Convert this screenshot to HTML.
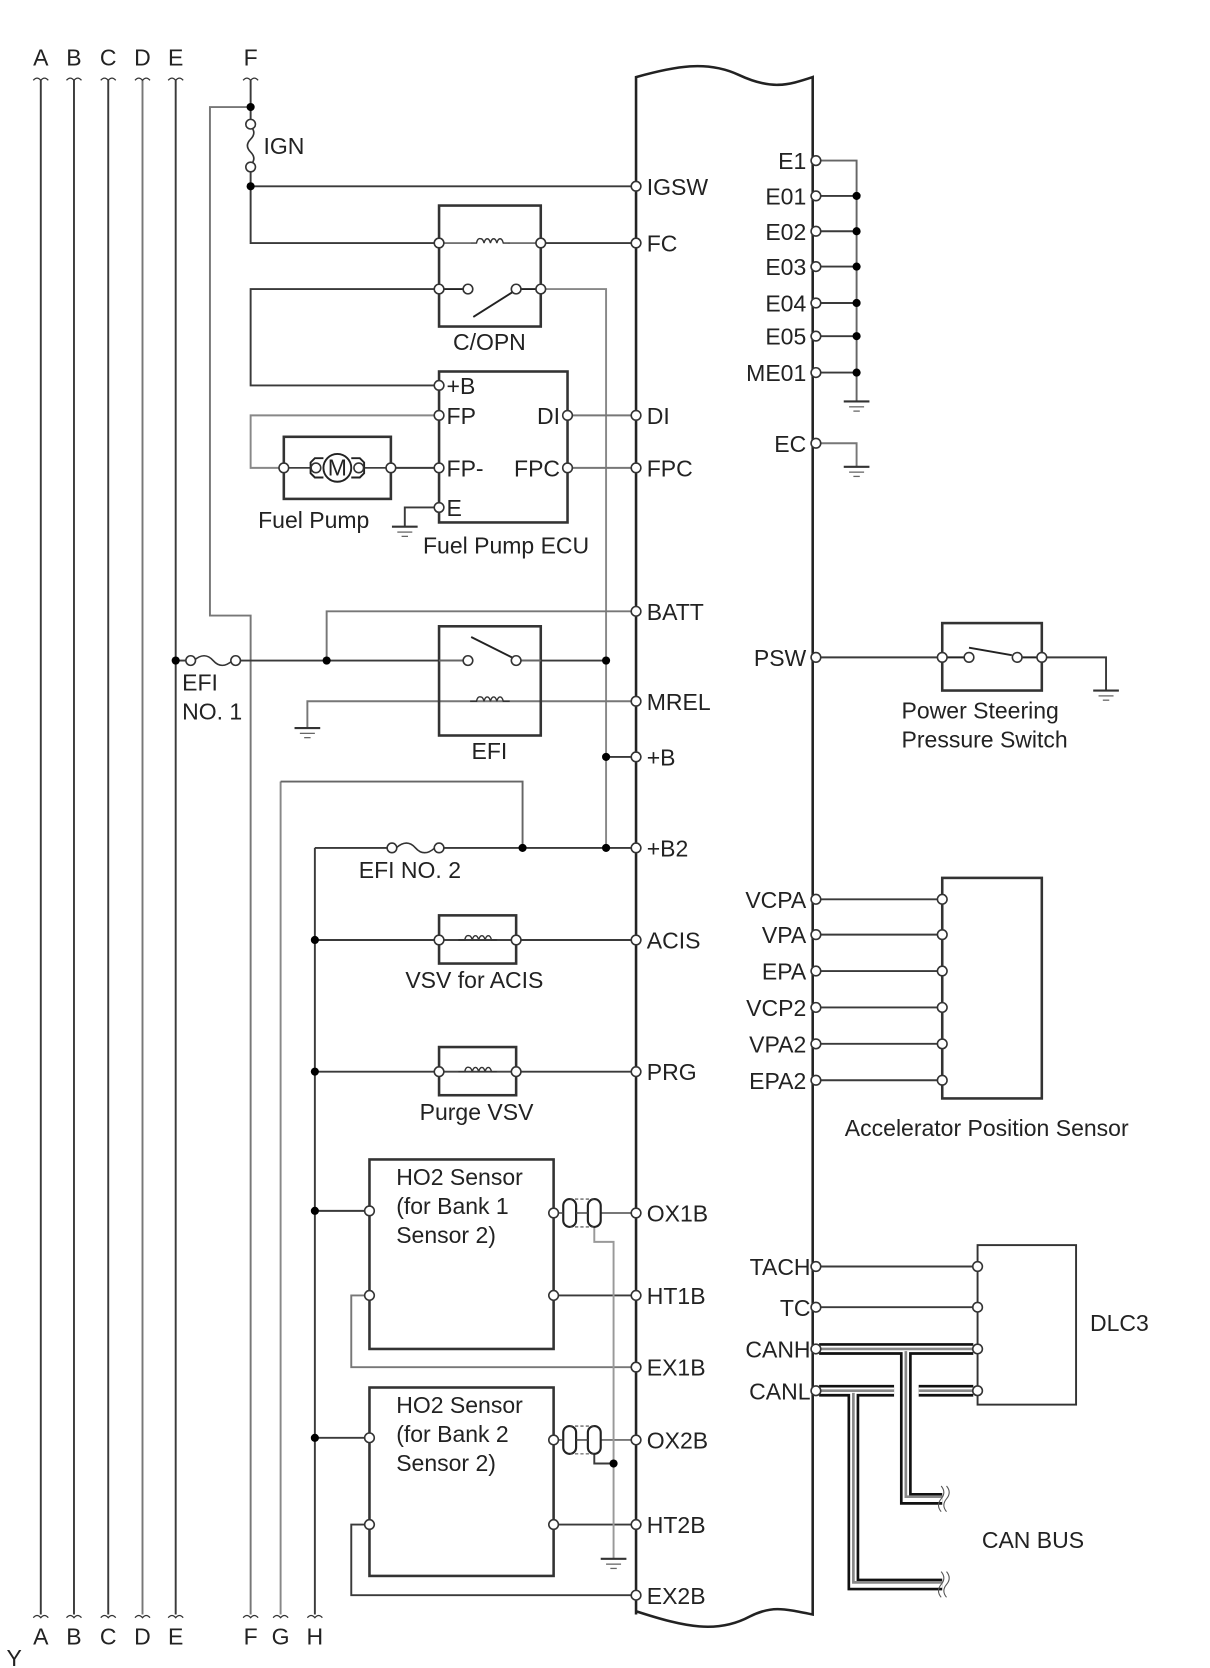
<!DOCTYPE html>
<html><head><meta charset="utf-8"><style>
html,body{margin:0;padding:0;background:#fff;}
svg{display:block;}
text{font-family:"Liberation Sans",Arial,sans-serif;font-size:21.5px;fill:#222;}
</style></head><body>
<svg width="1210" height="1668" viewBox="0 0 1130 1558" xmlns="http://www.w3.org/2000/svg">
<defs>
<g id="sq"><path d="M-7,2 q3.5,-4 7,0 q3.5,-4 7,0" fill="none" stroke="#333" stroke-width="1.2"/></g>
<g id="gnd"><line x1="-12" y1="0" x2="12" y2="0" stroke="#333" stroke-width="2"/><line x1="-7" y1="5" x2="7" y2="5" stroke="#666" stroke-width="1.2"/><line x1="-3" y1="9" x2="3" y2="9" stroke="#666" stroke-width="1.2"/></g>
<g id="coil"><path d="M-18,0 h6 q1,-5 4,-4 q2,0 3,4 q1,-4 3,-4 q2,0 3,4 q1,-4 3,-4 q2,0 3,4 q1,-4 3,-4 q2,0 3,4 h6" fill="none" stroke="#333" stroke-width="1.3"/></g>
<g id="pin"><circle r="4.5" fill="#fff" stroke="#333" stroke-width="1.5"/></g>
<g id="dot"><circle r="3.8" fill="#000"/></g>
</defs>

<g stroke="#3a3a3a" stroke-width="1.8" fill="none">
<line x1="38" y1="75" x2="38" y2="1508"/>
<line x1="69" y1="75" x2="69" y2="1508"/>
<line x1="101" y1="75" x2="101" y2="1508"/>
<line x1="133" y1="75" x2="133" y2="1508" stroke="#777"/>
<line x1="164" y1="75" x2="164" y2="1508"/>
<line x1="262" y1="730" x2="262" y2="1508" stroke="#888"/>
<line x1="294" y1="792" x2="294" y2="1508"/>
<polyline points="234,75 234,100 234,113"/>
<path d="M234,158 L234,174 L234,227 L410,227"/>
<path d="M234,100 L196,100 L196,575 L234,575 L234,1508" stroke="#777"/>
<path d="M234,174 L594,174"/>
<path d="M505,227 L594,227"/>
<path d="M505,270 L566,270 L566,792" stroke="#888"/>
<path d="M410,270 L234,270 L234,360 L410,360"/>
<path d="M410,388 L234,388 L234,437 L265,437" stroke="#888"/>
<path d="M365,437 L410,437"/>
<path d="M410,474 L378,474 L378,492"/>
<path d="M530,388 L594,388" stroke="#777"/>
<path d="M530,437 L594,437" stroke="#777"/>
<path d="M305,617 L305,571 L594,571" stroke="#777"/>
<path d="M164,617 L178,617"/>
<path d="M220,617 L437,617"/>
<path d="M482,617 L566,617"/>
<path d="M287,680 L287,655 L594,655" stroke="#777"/>
<path d="M566,707 L594,707"/>
<path d="M262,730 L488,730 L488,792" stroke="#666"/>
<path d="M294,792 L366,792"/>
<path d="M410,792 L594,792"/>
<path d="M294,878 L594,878"/>
<path d="M294,1001 L594,1001"/>
<path d="M294,1131 L345,1131"/>
<path d="M294,1343 L345,1343"/>
<path d="M561,1133 L594,1133" stroke="#777"/>
<path d="M561,1345 L594,1345" stroke="#777"/>
<path d="M517,1210 L594,1210"/>
<path d="M517,1424 L594,1424"/>
<path d="M345,1210 L328,1210 L328,1277 L594,1277" stroke="#777"/>
<path d="M345,1424 L328,1424 L328,1490 L594,1490"/>
<path d="M555,1146 L555,1160 L573,1160 L573,1456" stroke="#999"/>
<path d="M555,1358 L555,1367 L573,1367"/>
<path d="M762,150 L800,150 L800,375" stroke="#666"/>
<path d="M762,183 H800 M762,216 H800 M762,249 H800 M762,283 H800 M762,314 H800 M762,348 H800"/>
<path d="M762,414 L800,414 L800,436" stroke="#777"/>
<path d="M762,614 L880,614 M973,614 L1033,614 L1033,645"/>
<path d="M762,840 H880 M762,873 H880 M762,907 H880 M762,941 H880 M762,975 H880 M762,1009 H880"/>
<path d="M762,1183 H913 M762,1221 H913"/>
</g>

<path d="M594,1508 L594,72 C630,62 660,56 690,70 C720,84 735,80 759,72 L759,1508 C730,1502 720,1500 700,1510 C670,1526 640,1520 594,1505" fill="none" stroke="#222" stroke-width="2.4"/>

<g fill="none" stroke="#333" stroke-width="2.4">
<rect x="410" y="192" width="95" height="113"/>
<rect x="410" y="347" width="120" height="141"/>
<rect x="265" y="408" width="100" height="58"/>
<rect x="410" y="585" width="95" height="102"/>
<rect x="410" y="855" width="72" height="45"/>
<rect x="410" y="978" width="72" height="45"/>
<rect x="345" y="1083" width="172" height="177"/>
<rect x="345" y="1296" width="172" height="176"/>
<rect x="880" y="582" width="93" height="63"/>
<rect x="880" y="820" width="93" height="206"/>
<rect x="913" y="1163" width="92" height="149" stroke-width="1.8"/>
</g>

<g stroke="#222" stroke-width="1.8">
<line x1="410" y1="270" x2="433" y2="270"/>
<line x1="442" y1="296" x2="480" y2="272"/>
<line x1="487" y1="270" x2="505" y2="270"/>
<line x1="440" y1="595" x2="478" y2="614"/>
<line x1="437" y1="617" x2="410" y2="617" stroke="#666"/>
<line x1="482" y1="617" x2="505" y2="617" stroke="#666"/>
<line x1="880" y1="614" x2="900" y2="614"/>
<line x1="905" y1="605" x2="945" y2="612"/>
<line x1="955" y1="614" x2="973" y2="614"/>
</g>

<use href="#coil" x="457" y="227"/>
<use href="#coil" x="457" y="655"/>
<use href="#coil" x="446" y="878"/>
<use href="#coil" x="446" y="1001"/>
<g stroke="#444" stroke-width="1.3">
<line x1="410" y1="227" x2="439" y2="227"/><line x1="475" y1="227" x2="505" y2="227"/>
<line x1="410" y1="878" x2="428" y2="878"/><line x1="464" y1="878" x2="482" y2="878"/>
<line x1="410" y1="1001" x2="428" y2="1001"/><line x1="464" y1="1001" x2="482" y2="1001"/>
</g>

<path d="M234,118 q6,6 0,12 q-6,6 0,12 q6,6 0,12" fill="none" stroke="#333" stroke-width="1.5"/>
<path d="M181,617 q10,-9 18,0 q8,9 18,0" fill="none" stroke="#333" stroke-width="1.5"/>
<path d="M370,792 q10,-9 18,0 q8,9 18,0" fill="none" stroke="#333" stroke-width="1.5"/>

<g fill="none" stroke="#222" stroke-width="1.8">
<circle cx="315" cy="437" r="13" fill="#fff"/>
<path d="M302,428 h-8 l-4,4 v10 l4,4 h8 M328,428 h8 l4,4 v10 l-4,4 h-8"/>
<line x1="265" y1="437" x2="290" y2="437" stroke-width="1.4"/>
<line x1="340" y1="437" x2="365" y2="437" stroke-width="1.4"/>
</g>
<text x="315" y="444" text-anchor="middle" font-size="18">M</text>

<g fill="#fff" stroke="#222" stroke-width="2">
<rect x="526" y="1120" width="12" height="26" rx="6"/>
<rect x="549" y="1120" width="12" height="26" rx="6"/>
<rect x="526" y="1332" width="12" height="26" rx="6"/>
<rect x="549" y="1332" width="12" height="26" rx="6"/>
</g>
<g stroke="#444" stroke-width="1" stroke-dasharray="3,2">
<line x1="532" y1="1120" x2="555" y2="1120"/><line x1="532" y1="1146" x2="555" y2="1146"/>
<line x1="532" y1="1332" x2="555" y2="1332"/><line x1="532" y1="1358" x2="555" y2="1358"/>
</g>
<g stroke="#444" stroke-width="1.4"><line x1="517" y1="1133" x2="526" y2="1133"/><line x1="538" y1="1133" x2="549" y2="1133"/><line x1="517" y1="1345" x2="526" y2="1345"/><line x1="538" y1="1345" x2="549" y2="1345"/></g>

<!-- CAN bus: CANL first, CANH on top -->
<g fill="none">
<g stroke="#111" stroke-width="11"><path d="M765,1299 H835"/><path d="M858,1299 H909"/><path d="M797,1299 V1480 H880"/></g>
<g stroke="#fff" stroke-width="6"><path d="M765,1299 H835"/><path d="M858,1299 H909"/><path d="M797,1299 V1480 H880"/></g>
<g stroke="#888" stroke-width="2.5"><path d="M765,1299 H835"/><path d="M858,1299 H909"/><path d="M797,1301 V1478 H880"/></g>
<g stroke="#111" stroke-width="11"><path d="M765,1260 H909"/><path d="M846,1260 V1400 H880"/></g>
<g stroke="#fff" stroke-width="6"><path d="M765,1260 H909"/><path d="M846,1260 V1400 H880"/></g>
<g stroke="#888" stroke-width="2.5"><path d="M765,1260 H909"/><path d="M846,1262 V1398 H880"/></g>
</g>
<path d="M879,1388 q5,6 0,12 q-5,6 0,12 M884,1388 q5,6 0,12 q-5,6 0,12 M879,1468 q5,6 0,12 q-5,6 0,12 M884,1468 q5,6 0,12 q-5,6 0,12" fill="none" stroke="#555" stroke-width="1"/>

<use href="#gnd" x="378" y="492"/>
<use href="#gnd" x="287" y="680"/>
<use href="#gnd" x="573" y="1456"/>
<use href="#gnd" x="800" y="375"/>
<use href="#gnd" x="800" y="436"/>
<use href="#gnd" x="1033" y="645"/>

<g>
<use href="#sq" x="38" y="73"/><use href="#sq" x="69" y="73"/><use href="#sq" x="101" y="73"/><use href="#sq" x="133" y="73"/><use href="#sq" x="164" y="73"/><use href="#sq" x="234" y="73"/>
<use href="#sq" x="38" y="1509"/><use href="#sq" x="69" y="1509"/><use href="#sq" x="101" y="1509"/><use href="#sq" x="133" y="1509"/><use href="#sq" x="164" y="1509"/><use href="#sq" x="234" y="1509"/><use href="#sq" x="262" y="1509"/><use href="#sq" x="294" y="1509"/>
</g>

<use href="#dot" x="234" y="100"/><use href="#dot" x="234" y="174"/>
<use href="#dot" x="164" y="617"/><use href="#dot" x="305" y="617"/><use href="#dot" x="566" y="617"/>
<use href="#dot" x="566" y="707"/><use href="#dot" x="488" y="792"/><use href="#dot" x="566" y="792"/>
<use href="#dot" x="294" y="878"/><use href="#dot" x="294" y="1001"/><use href="#dot" x="294" y="1131"/><use href="#dot" x="294" y="1343"/>
<use href="#dot" x="573" y="1367"/>
<use href="#dot" x="800" y="183"/><use href="#dot" x="800" y="216"/><use href="#dot" x="800" y="249"/><use href="#dot" x="800" y="283"/><use href="#dot" x="800" y="314"/><use href="#dot" x="800" y="348"/>

<g>
<use href="#pin" x="234" y="116"/><use href="#pin" x="234" y="156"/>
<use href="#pin" x="594" y="174"/><use href="#pin" x="594" y="227"/><use href="#pin" x="594" y="388"/><use href="#pin" x="594" y="437"/>
<use href="#pin" x="594" y="571"/><use href="#pin" x="594" y="655"/><use href="#pin" x="594" y="707"/><use href="#pin" x="594" y="792"/>
<use href="#pin" x="594" y="878"/><use href="#pin" x="594" y="1001"/><use href="#pin" x="594" y="1133"/><use href="#pin" x="594" y="1210"/><use href="#pin" x="594" y="1277"/><use href="#pin" x="594" y="1345"/><use href="#pin" x="594" y="1424"/><use href="#pin" x="594" y="1490"/>
<use href="#pin" x="410" y="227"/><use href="#pin" x="505" y="227"/><use href="#pin" x="410" y="270"/><use href="#pin" x="437" y="270"/><use href="#pin" x="482" y="270"/><use href="#pin" x="505" y="270"/>
<use href="#pin" x="410" y="360"/><use href="#pin" x="410" y="388"/><use href="#pin" x="410" y="437"/><use href="#pin" x="410" y="474"/><use href="#pin" x="530" y="388"/><use href="#pin" x="530" y="437"/>
<use href="#pin" x="265" y="437"/><use href="#pin" x="365" y="437"/><use href="#pin" x="295" y="437"/><use href="#pin" x="335" y="437"/>
<use href="#pin" x="178" y="617"/><use href="#pin" x="220" y="617"/><use href="#pin" x="437" y="617"/><use href="#pin" x="482" y="617"/>
<use href="#pin" x="366" y="792"/><use href="#pin" x="410" y="792"/>
<use href="#pin" x="410" y="878"/><use href="#pin" x="482" y="878"/><use href="#pin" x="410" y="1001"/><use href="#pin" x="482" y="1001"/>
<use href="#pin" x="345" y="1131"/><use href="#pin" x="345" y="1210"/><use href="#pin" x="517" y="1133"/><use href="#pin" x="517" y="1210"/>
<use href="#pin" x="345" y="1343"/><use href="#pin" x="345" y="1424"/><use href="#pin" x="517" y="1345"/><use href="#pin" x="517" y="1424"/>
<use href="#pin" x="762" y="150"/><use href="#pin" x="762" y="183"/><use href="#pin" x="762" y="216"/><use href="#pin" x="762" y="249"/><use href="#pin" x="762" y="283"/><use href="#pin" x="762" y="314"/><use href="#pin" x="762" y="348"/><use href="#pin" x="762" y="414"/>
<use href="#pin" x="762" y="614"/><use href="#pin" x="880" y="614"/><use href="#pin" x="905" y="614"/><use href="#pin" x="950" y="614"/><use href="#pin" x="973" y="614"/>
<use href="#pin" x="762" y="840"/><use href="#pin" x="762" y="873"/><use href="#pin" x="762" y="907"/><use href="#pin" x="762" y="941"/><use href="#pin" x="762" y="975"/><use href="#pin" x="762" y="1009"/>
<use href="#pin" x="880" y="840"/><use href="#pin" x="880" y="873"/><use href="#pin" x="880" y="907"/><use href="#pin" x="880" y="941"/><use href="#pin" x="880" y="975"/><use href="#pin" x="880" y="1009"/>
<use href="#pin" x="762" y="1183"/><use href="#pin" x="762" y="1221"/><use href="#pin" x="762" y="1260"/><use href="#pin" x="762" y="1299"/>
<use href="#pin" x="913" y="1183"/><use href="#pin" x="913" y="1221"/><use href="#pin" x="913" y="1260"/><use href="#pin" x="913" y="1299"/>
</g>

<g>
<text x="38" y="61" text-anchor="middle">A</text><text x="69" y="61" text-anchor="middle">B</text><text x="101" y="61" text-anchor="middle">C</text><text x="133" y="61" text-anchor="middle">D</text><text x="164" y="61" text-anchor="middle">E</text><text x="234" y="61" text-anchor="middle">F</text>
<text x="38" y="1536" text-anchor="middle">A</text><text x="69" y="1536" text-anchor="middle">B</text><text x="101" y="1536" text-anchor="middle">C</text><text x="133" y="1536" text-anchor="middle">D</text><text x="164" y="1536" text-anchor="middle">E</text><text x="234" y="1536" text-anchor="middle">F</text><text x="262" y="1536" text-anchor="middle">G</text><text x="294" y="1536" text-anchor="middle">H</text>
<text x="6" y="1556" font-size="15">Y</text>
<text x="246" y="144">IGN</text>
<text x="604" y="182">IGSW</text><text x="604" y="235">FC</text><text x="604" y="396">DI</text><text x="604" y="445">FPC</text>
<text x="604" y="579">BATT</text><text x="604" y="663">MREL</text><text x="604" y="715">+B</text><text x="604" y="800">+B2</text>
<text x="604" y="886">ACIS</text><text x="604" y="1009">PRG</text><text x="604" y="1141">OX1B</text><text x="604" y="1218">HT1B</text><text x="604" y="1285">EX1B</text><text x="604" y="1353">OX2B</text><text x="604" y="1432">HT2B</text><text x="604" y="1498">EX2B</text>
<text x="457" y="327" text-anchor="middle">C/OPN</text>
<text x="417" y="368">+B</text><text x="417" y="396">FP</text><text x="417" y="445">FP-</text><text x="417" y="482">E</text>
<text x="523" y="396" text-anchor="end">DI</text><text x="523" y="445" text-anchor="end">FPC</text>
<text x="241" y="493">Fuel Pump</text>
<text x="395" y="517">Fuel Pump ECU</text>
<text x="170" y="645">EFI</text><text x="170" y="672">NO. 1</text>
<text x="457" y="709" text-anchor="middle">EFI</text>
<text x="335" y="820">EFI NO. 2</text>
<text x="443" y="923" text-anchor="middle">VSV for ACIS</text>
<text x="445" y="1046" text-anchor="middle">Purge VSV</text>
<text x="370" y="1107">HO2 Sensor</text><text x="370" y="1134">(for Bank 1</text><text x="370" y="1161">Sensor 2)</text>
<text x="370" y="1320">HO2 Sensor</text><text x="370" y="1347">(for Bank 2</text><text x="370" y="1374">Sensor 2)</text>
<g text-anchor="end">
<text x="753" y="158">E1</text><text x="753" y="191">E01</text><text x="753" y="224">E02</text><text x="753" y="257">E03</text><text x="753" y="291">E04</text><text x="753" y="322">E05</text><text x="753" y="356">ME01</text><text x="753" y="422">EC</text>
<text x="753" y="622">PSW</text>
<text x="753" y="848">VCPA</text><text x="753" y="881">VPA</text><text x="753" y="915">EPA</text><text x="753" y="949">VCP2</text><text x="753" y="983">VPA2</text><text x="753" y="1017">EPA2</text>
<text x="757" y="1191">TACH</text><text x="757" y="1229">TC</text><text x="757" y="1268">CANH</text><text x="757" y="1307">CANL</text>
</g>
<text x="842" y="671">Power Steering</text><text x="842" y="698">Pressure Switch</text>
<text x="789" y="1061">Accelerator Position Sensor</text>
<text x="1018" y="1243">DLC3</text>
<text x="917" y="1446">CAN BUS</text>
</g>
</svg>
</body></html>
